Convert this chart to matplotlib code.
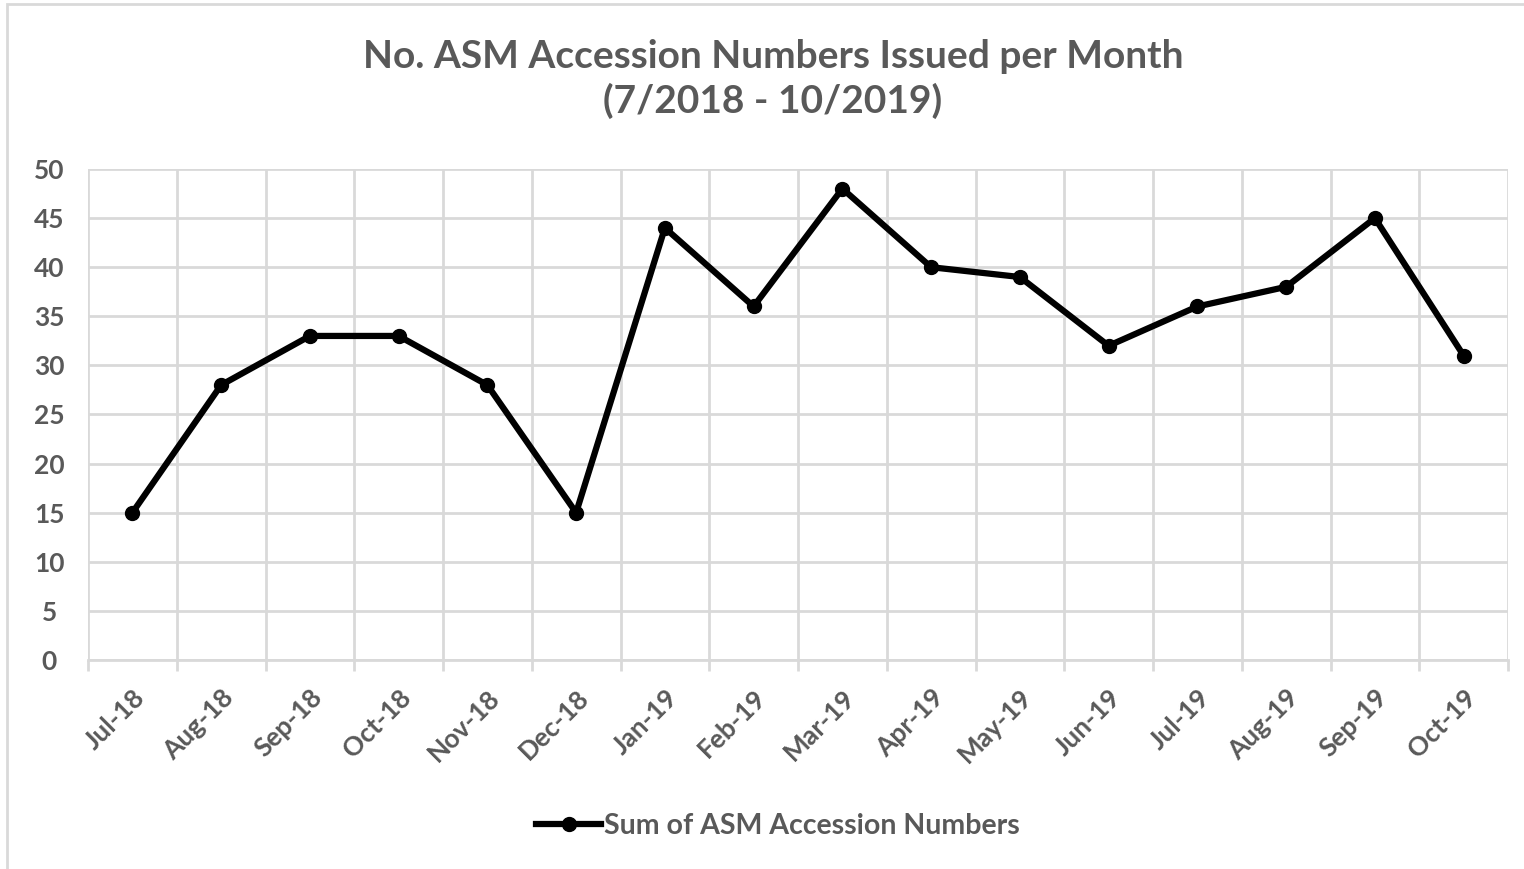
import matplotlib
matplotlib.use("Agg")
from matplotlib import pyplot as plt
from matplotlib.patches import Rectangle
import numpy as np

months = ["Jul-18", "Aug-18", "Sep-18", "Oct-18", "Nov-18", "Dec-18",
          "Jan-19", "Feb-19", "Mar-19", "Apr-19", "May-19", "Jun-19",
          "Jul-19", "Aug-19", "Sep-19", "Oct-19"]
accessions = [15, 28, 33, 33, 28, 15, 44, 36, 48, 40, 39, 32, 36, 38, 45, 31]

cinza = "#595959"
grade = "#d9d9d9"
plt.rcParams["font.family"] = ["Lato", "DejaVu Sans"]
plt.rcParams["font.weight"] = "bold"

fig = plt.figure(figsize=(15.24, 8.69), dpi=100)
fig.patches.append(Rectangle((7 / 1524, -0.1), 1.2, 1 - 4 / 869 + 0.1,
                             transform=fig.transFigure, fill=False,
                             edgecolor=grade, linewidth=2))

ax = fig.add_axes([88 / 1524, 1 - 660 / 869, 1420 / 1524, 491 / 869])
x = np.arange(len(months))
ax.plot(x, accessions, color="black", linewidth=4.5, marker="o", markersize=10,
        label="Sum of ASM Accession Numbers", solid_joinstyle="round")

ax.set_xlim(-0.5, len(months) - 0.5)
ax.set_ylim(0, 50)
ax.set_yticks(range(0, 51, 5))
ax.set_xticks(x)
ax.set_xticklabels(months, rotation=45, ha="right", rotation_mode="anchor")
ax.set_xticks(np.arange(-0.5, len(months), 1), minor=True)
ax.grid(True, which="minor", axis="x", color=grade, linewidth=2)
ax.grid(True, which="major", axis="y", color=grade, linewidth=2)
ax.set_axisbelow(True)
ax.tick_params(axis="x", which="major", length=0, pad=18, labelsize=19, labelcolor=cinza)
ax.tick_params(axis="x", which="minor", length=8, width=2, color=grade)
ax.tick_params(axis="y", length=0, pad=28, labelsize=19, labelcolor=cinza)
for lbl in ax.get_yticklabels():
    lbl.set_horizontalalignment("center")
for lado in ["top", "right", "left"]:
    ax.spines[lado].set_visible(False)
ax.spines["bottom"].set_color(grade)
ax.spines["bottom"].set_linewidth(2)

fig.text(773 / 1524, 1 - 79 / 869, "No. ASM Accession Numbers Issued per Month\n(7/2018 - 10/2019)",
         ha="center", va="center", fontsize=28, color=cinza, fontweight="bold",
         linespacing=1.32)
fig.legend(loc="center", bbox_to_anchor=(778 / 1524, 1 - 826 / 869), frameon=False,
           fontsize=20.5, labelcolor=cinza, handlelength=2.3, handletextpad=0.1)

fig.savefig("out.png", dpi=100)
